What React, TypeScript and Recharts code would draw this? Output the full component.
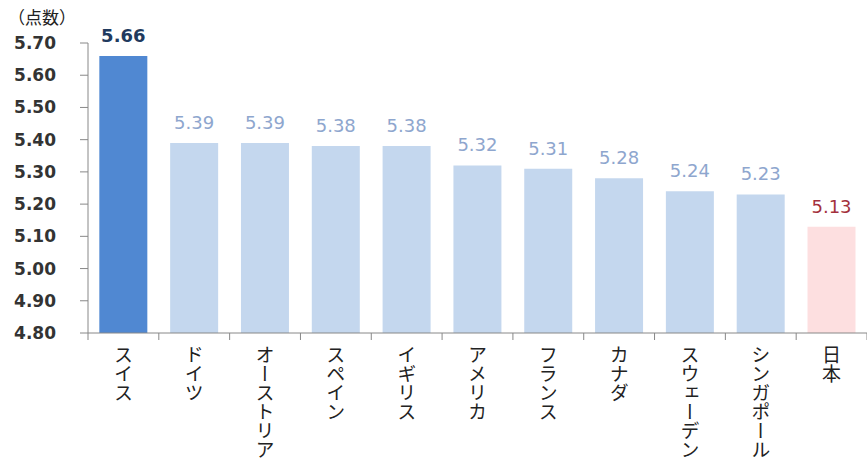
import React from "react";
import { BarChart, Bar, XAxis, YAxis, Cell, LabelList } from "recharts";

const countries = ["スイス", "ドイツ", "オーストリア", "スペイン", "イギリス", "アメリカ", "フランス", "カナダ", "スウェーデン", "シンガポール", "日本"];
const scores = [5.66, 5.39, 5.39, 5.38, 5.38, 5.32, 5.31, 5.28, 5.24, 5.23, 5.13];
const yTicks = [4.8, 4.9, 5.0, 5.1, 5.2, 5.3, 5.4, 5.5, 5.6, 5.7];

const W = 867;
const H = 458;
const AXIS_X = 88;
const BAND = (W - AXIS_X) / countries.length;

const barFill = (name: string, i: number) => (i === 0 ? "#5088D2" : name === "日本" ? "#FDDFE0" : "#C4D7EE");
const labelFill = (name: string, i: number) => (i === 0 ? "#213A5E" : name === "日本" ? "#A3303C" : "#8EA6CE");

const XTick = (props: any) => {
  const { x, y, payload, index } = props;
  const left = x - BAND / 2;
  return (
    <g>
      <line x1={left} y1={y - 8} x2={left} y2={y - 1} stroke="#888" />
      {index === countries.length - 1 && (
        <line x1={left + BAND} y1={y - 8} x2={left + BAND} y2={y - 1} stroke="#888" />
      )}
      <text
        x={x}
        y={y + 4}
        fontSize={19}
        fill="#222"
        fontFamily="'Noto Sans CJK JP', sans-serif"
        style={{ writingMode: "vertical-rl" } as any}
      >
        {payload.value}
      </text>
    </g>
  );
};

const ValueLabel = (props: any) => {
  const { x, y, width, value, index } = props;
  const name = countries[index];
  return (
    <text
      x={x + width / 2}
      y={y - 14}
      textAnchor="middle"
      fontSize={18}
      fontWeight={index === 0 ? "bold" : "normal"}
      fontFamily="'DejaVu Sans', sans-serif"
      fill={labelFill(name, index)}
    >
      {Number(value).toFixed(2)}
    </text>
  );
};

export default function App() {
  const data = countries.map((c, i) => ({ name: c, score: scores[i] }));
  return (
    <div style={{ position: "absolute", left: 0, top: 0, width: W, height: H, overflow: "hidden", background: "#fff" }}>
      <div
        style={{
          position: "absolute",
          left: 8,
          top: 4,
          fontSize: 17,
          fontFamily: "'Noto Sans CJK JP', sans-serif",
          color: "#222",
        }}
      >
        （点数）
      </div>
      <BarChart width={W} height={H} data={data} margin={{ top: 43, right: 0, bottom: 0, left: 0 }} barCategoryGap="16%">
        <YAxis
          width={AXIS_X}
          domain={[4.8, 5.7]}
          ticks={yTicks}
          interval={0}
          allowDataOverflow
          tickFormatter={(v: number) => v.toFixed(2)}
          tick={{ fontSize: 17, fontWeight: "bold", fill: "#333", fontFamily: "'DejaVu Sans', sans-serif" }}
          tickSize={8}
          tickMargin={24}
          stroke="#888"
        />
        <XAxis
          dataKey="name"
          height={H - 333}
          interval={0}
          tickLine={false}
          tick={<XTick />}
          stroke="#888"
        />
        <Bar dataKey="score" isAnimationActive={false}>
          {data.map((d, i) => (
            <Cell key={d.name} fill={barFill(d.name, i)} />
          ))}
          <LabelList dataKey="score" content={<ValueLabel />} />
        </Bar>
      </BarChart>
    </div>
  );
}
